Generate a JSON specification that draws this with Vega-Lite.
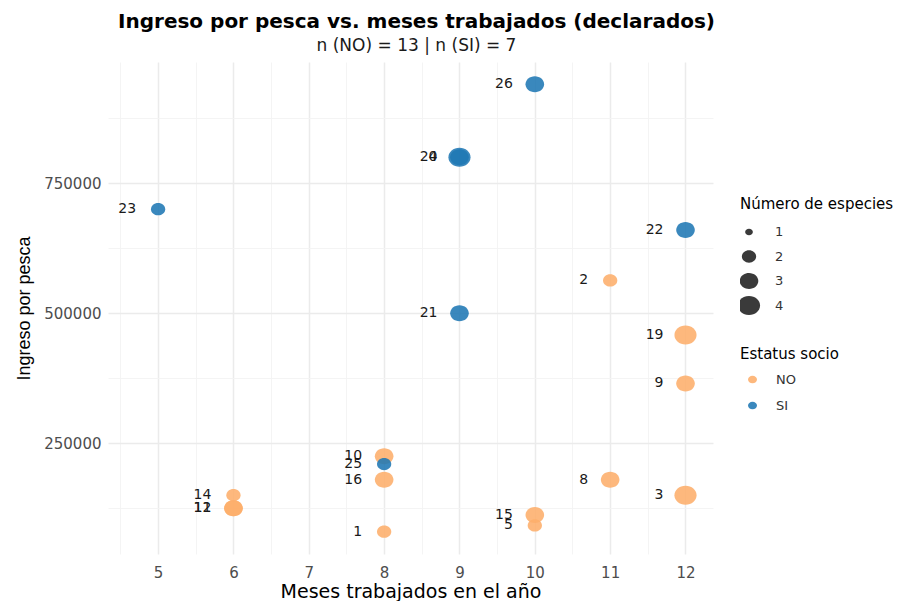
{
  "$schema": "https://vega.github.io/schema/vega-lite/v6.json",
  "autosize": "none",
  "width": 605,
  "height": 492,
  "padding": {"left": 108, "top": 62, "right": 188, "bottom": 47},
  "background": "white",
  "config": {
    "font": "DejaVu Sans",
    "view": {"stroke": null}
  },
  "title": {
    "text": "Ingreso por pesca vs. meses trabajados (declarados)",
    "subtitle": "n (NO) = 13 | n (SI) = 7",
    "anchor": "middle",
    "dx": 6,
    "font": "DejaVu Sans",
    "fontSize": 20,
    "fontWeight": "bold",
    "color": "#000000",
    "subtitleFont": "DejaVu Sans",
    "subtitleFontSize": 17,
    "subtitleColor": "#1a1a1a",
    "subtitlePadding": 6,
    "offset": 8
  },
  "data": {
    "values": [
      {"id": "1", "meses": 8, "ingreso": 80000, "socio": "NO", "especies": 2},
      {"id": "2", "meses": 11, "ingreso": 563000, "socio": "NO", "especies": 2},
      {"id": "3", "meses": 12, "ingreso": 150000, "socio": "NO", "especies": 4},
      {"id": "4", "meses": 9, "ingreso": 800000, "socio": "SI", "especies": 3},
      {"id": "5", "meses": 10, "ingreso": 92000, "socio": "NO", "especies": 2},
      {"id": "8", "meses": 11, "ingreso": 180000, "socio": "NO", "especies": 3},
      {"id": "9", "meses": 12, "ingreso": 365000, "socio": "NO", "especies": 3},
      {"id": "10", "meses": 8, "ingreso": 225000, "socio": "NO", "especies": 3},
      {"id": "11", "meses": 6, "ingreso": 125000, "socio": "NO", "especies": 3},
      {"id": "12", "meses": 6, "ingreso": 125000, "socio": "NO", "especies": 3},
      {"id": "14", "meses": 6, "ingreso": 150000, "socio": "NO", "especies": 2},
      {"id": "15", "meses": 10, "ingreso": 112000, "socio": "NO", "especies": 3},
      {"id": "16", "meses": 8, "ingreso": 180000, "socio": "NO", "especies": 3},
      {"id": "19", "meses": 12, "ingreso": 458000, "socio": "NO", "especies": 4},
      {"id": "20", "meses": 9, "ingreso": 800000, "socio": "SI", "especies": 4},
      {"id": "21", "meses": 9, "ingreso": 500000, "socio": "SI", "especies": 3},
      {"id": "22", "meses": 12, "ingreso": 660000, "socio": "SI", "especies": 3},
      {"id": "23", "meses": 5, "ingreso": 700000, "socio": "SI", "especies": 2},
      {"id": "25", "meses": 8, "ingreso": 210000, "socio": "SI", "especies": 2},
      {"id": "26", "meses": 10, "ingreso": 940000, "socio": "SI", "especies": 3}
    ]
  },
  "encoding": {
    "x": {
      "field": "meses",
      "type": "quantitative",
      "title": "Meses trabajados en el año",
      "scale": {"domain": [4.335, 12.365], "nice": false, "zero": false},
      "axis": {
        "values": [4.5, 5, 5.5, 6, 6.5, 7, 7.5, 8, 8.5, 9, 9.5, 10, 10.5, 11, 11.5, 12],
        "labelExpr": "datum.value % 1 === 0 ? format(datum.value, 'd') : ''",
        "domain": false,
        "ticks": false,
        "grid": true,
        "gridColor": {"condition": {"test": "datum.value % 1 === 0", "value": "#EBEBEB"}, "value": "#F3F3F3"},
        "gridWidth": {"condition": {"test": "datum.value % 1 === 0", "value": 1.5}, "value": 0.9},
        "labelFontSize": 15,
        "labelColor": "#4D4D4D",
        "labelPadding": 11,
        "titleFontSize": 19,
        "titleFontWeight": "normal",
        "titleColor": "#000000",
        "titlePadding": 2
      }
    },
    "y": {
      "field": "ingreso",
      "type": "quantitative",
      "title": "Ingreso por pesca",
      "scale": {"domain": [37000, 983000], "nice": false, "zero": false},
      "axis": {
        "values": [125000, 250000, 375000, 500000, 625000, 750000, 875000],
        "labelExpr": "datum.value % 250000 === 0 ? format(datum.value, 'd') : ''",
        "domain": false,
        "ticks": false,
        "grid": true,
        "gridColor": {"condition": {"test": "datum.value % 250000 === 0", "value": "#EBEBEB"}, "value": "#F3F3F3"},
        "gridWidth": {"condition": {"test": "datum.value % 250000 === 0", "value": 1.5}, "value": 0.9},
        "labelFontSize": 15,
        "labelColor": "#4D4D4D",
        "labelPadding": 7,
        "titleFont": "Liberation Sans",
        "titleFontSize": 18,
        "titleFontWeight": "normal",
        "titleColor": "#000000",
        "titlePadding": 10
      }
    }
  },
  "layer": [
    {
      "mark": {
        "type": "point",
        "filled": true,
        "opacity": 0.88,
        "shape": "M-1.42,0A1.42,1.22,0,1,1,1.42,0A1.42,1.22,0,1,1,-1.42,0Z"
      },
      "encoding": {
        "color": {
          "field": "socio",
          "type": "nominal",
          "title": "Estatus socio",
          "scale": {"domain": ["NO", "SI"], "range": ["#FDAE6B", "#1F78B4"]},
          "legend": {
            "orient": "none",
            "legendX": 632,
            "legendY": 285,
            "titleFontSize": 15,
            "titleFontWeight": "normal",
            "titleColor": "#000000",
            "titlePadding": 11,
            "labelFontSize": 13,
            "labelColor": "#333333",
            "labelOffset": 17,
            "symbolSize": 40,
            "symbolType": "M-1.42,0A1.42,1.22,0,1,1,1.42,0A1.42,1.22,0,1,1,-1.42,0Z",
            "symbolOffset": 6,
            "rowPadding": 12
          }
        },
        "size": {
          "field": "especies",
          "type": "ordinal",
          "title": "Número de especies",
          "scale": {"domain": [1, 2, 3, 4], "range": [30, 243, 392, 529]},
          "legend": {
            "orient": "none",
            "legendX": 632,
            "legendY": 135,
            "titleFontSize": 15,
            "titleFontWeight": "normal",
            "titleColor": "#000000",
            "titlePadding": 10,
            "labelFontSize": 13,
            "labelColor": "#333333",
            "labelOffset": 17,
            "symbolType": "M-1.42,0A1.42,1.22,0,1,1,1.42,0A1.42,1.22,0,1,1,-1.42,0Z",
            "clipHeight": 20,
            "rowPadding": 4.5,
            "encode": {
              "symbols": {"update": {"fill": {"value": "#1a1a1a"}, "stroke": {"value": "transparent"}, "opacity": {"value": 0.9}}}
            }
          }
        }
      }
    },
    {
      "mark": {
        "type": "text",
        "align": "right",
        "baseline": "middle",
        "dx": -22,
        "fontSize": 14,
        "color": "#1a1a1a"
      },
      "encoding": {
        "text": {"field": "id", "type": "nominal"}
      }
    }
  ]
}
